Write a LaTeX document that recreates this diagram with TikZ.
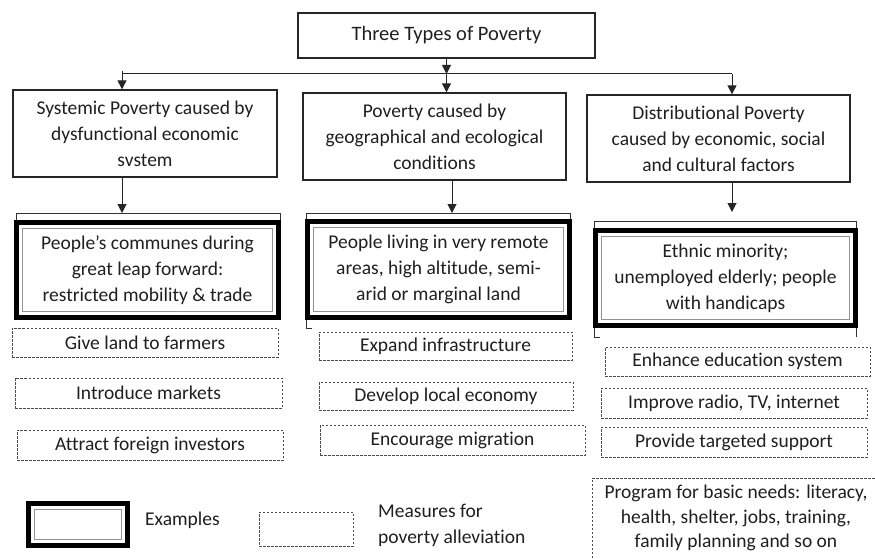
\documentclass[tikz,border=0pt]{standalone}
\usepackage{fontspec}
\setmainfont{Carlito}[RawFeature={-liga}]
\usetikzlibrary{arrows.meta,calc}
\begin{document}
\begin{tikzpicture}[x=1pt,y=-1pt,
  every node/.style={font=\fontsize{19.5}{26}\selectfont, align=center, inner sep=0pt, text=black!88},
  plainbox/.style={draw=black!85, line width=1.3pt},
  dashbox/.style={draw=black!70, line width=0.8pt, dash pattern=on 2.5pt off 1.5pt},
  arr/.style={draw=black!85, line width=1pt, -{Triangle[width=9pt,length=9pt]}},
  conn/.style={draw=black!85, line width=1pt},
  innerframe/.style={draw=gray!85, line width=1.6pt},
  thickframe/.style={line width=4.8pt, draw=black},
  thinframe/.style={line width=0.9pt, draw=black!80},
]
\useasboundingbox (0,0) rectangle (875,559);

% title
\node[plainbox, minimum width=297pt, minimum height=45pt, font=\fontsize{20.5}{26}\selectfont] (title) at (446.5,35.5) {Three Types of Poverty};

% type boxes
\node[plainbox, minimum width=264pt, minimum height=87pt] (b1) at (145,133.5) {Systemic Poverty caused by\\dysfunctional economic\\svstem};
\node[plainbox, minimum width=263pt, minimum height=87pt] (b2) at (434.5,136.5) {Poverty caused by\\geographical and ecological\\conditions};
\node[plainbox, minimum width=263pt, minimum height=87pt] (b3) at (718.5,138.5) {Distributional Poverty\\caused by economic, social\\and cultural factors};

% junctions
\coordinate (j) at (446.5,74);
\coordinate (jl) at (122,74);
\coordinate (jr) at (732,74);
\coordinate (k2) at (452,74);
\coordinate (e1) at (122,213);
\coordinate (e2) at (452,213);
\coordinate (e3) at (732,212);

\draw[arr] (title.south) -- (j);
\draw[conn] (jl) -- (jr);
\draw[arr] ($(jl)+(0,-3)$) -- (jl |- b1.north);
\draw[arr] (j) -- (j |- b2.north);
\draw[arr] (jr) -- (jr |- b3.north);
\draw[arr] (b1.south -| jl) -- (e1);
\draw[arr] (b2.south -| k2) -- (e2);
\draw[arr] (b3.south -| jr) -- (e3);

% example boxes: thin outer lines
\draw[thinframe] (16,319) -- (16,213) -- (280,213) -- (280,319);
\draw[thinframe] (312,328) -- (306.5,328) -- (306.5,213) -- (570.5,213) -- (570.5,319);
\draw[thinframe] (600,337) -- (594.5,337) -- (594.5,221) -- (856.5,221) -- (856.5,337);

% example boxes
\node[innerframe, minimum width=250pt, minimum height=83pt] (ex1) at (147.5,270) {People’s communes during\\great leap forward:\\restricted mobility \& trade};
\node[innerframe, minimum width=250pt, minimum height=84pt] (ex2) at (438.5,269.5) {People living in very remote\\areas, high altitude, semi-\\arid or marginal land};
\node[innerframe, minimum width=248pt, minimum height=83pt] (ex3) at (725.5,278) {Ethnic minority;\\unemployed elderly; people\\with handicaps};
\foreach \n in {ex1,ex2,ex3}{
  \draw[thickframe] ($(\n.north west)+(-5.25,-5.25)$) rectangle ($(\n.south east)+(5.25,5.25)$);
}

% measures column 1
\node[dashbox, minimum width=266pt, minimum height=29pt] (d11) at (145,342.5) {Give land to farmers};
\node[dashbox, minimum width=267pt, minimum height=30pt] (d12) at (148.5,393) {Introduce markets};
\node[dashbox, minimum width=266pt, minimum height=30pt] (d13) at (150,445) {Attract foreign investors};
% measures column 2
\node[dashbox, minimum width=253pt, minimum height=28pt] (d21) at (445.5,346) {Expand infrastructure};
\node[dashbox, minimum width=254pt, minimum height=28pt] (d22) at (446,396) {Develop local economy};
\node[dashbox, minimum width=265pt, minimum height=30pt] (d23) at (452.5,440) {Encourage migration};
% measures column 3
\node[dashbox, minimum width=265pt, minimum height=29pt] (d31) at (737.5,361.5) {Enhance education system};
\node[dashbox, minimum width=266pt, minimum height=30pt] (d32) at (734,403) {Improve radio, TV, internet};
\node[dashbox, minimum width=266pt, minimum height=30pt] (d33) at (734,442) {Provide targeted support};

% program box (runs off the page)
\draw[dashbox] (592,570) -- (592,478) -- (900,478);
\node[font=\fontsize{19.5}{24.5}\selectfont] (prog) at (736,518) {Program for basic needs: literacy,\\health, shelter,  jobs, training,\\family planning and so on};

% legend
\node[innerframe, minimum width=87pt, minimum height=30pt] (lg1) at (78,524.5) {};
\draw[thickframe] ($(lg1.north west)+(-5.25,-5.25)$) rectangle ($(lg1.south east)+(5.25,5.25)$);
\node[anchor=west] (lg1t) at (145,520) {Examples};
\node[dashbox, minimum width=94pt, minimum height=34pt] (lg2) at (306,529) {};
\node[anchor=west, align=left] (lg2t) at (378,525) {Measures for\\poverty alleviation};
\end{tikzpicture}
\end{document}
